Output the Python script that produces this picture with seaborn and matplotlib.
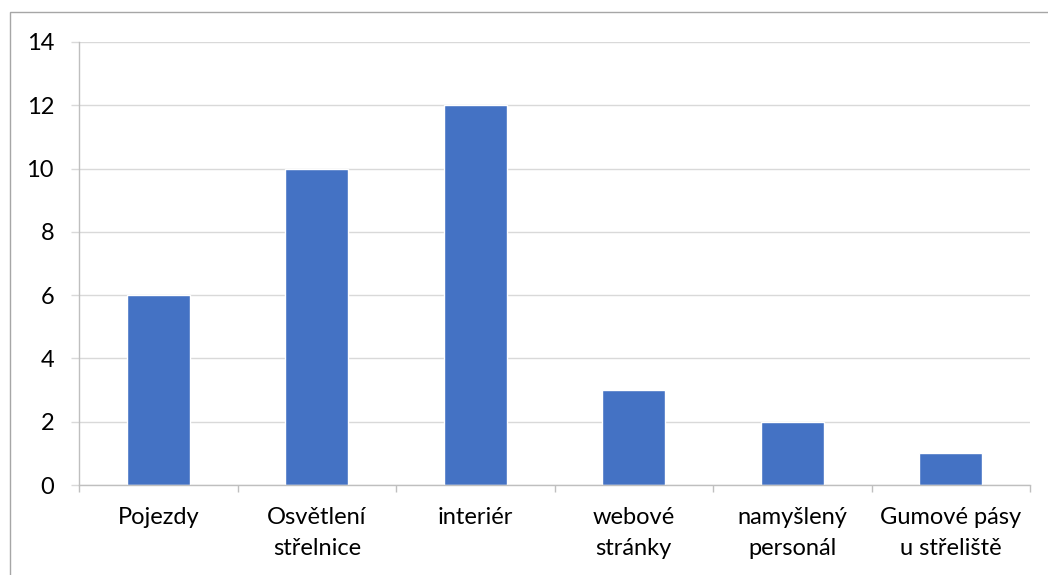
import matplotlib
matplotlib.use("Agg")
import matplotlib.pyplot as plt
import seaborn as sns
import pandas as pd
from matplotlib.patches import Rectangle

categories = ["Pojezdy", "Osvětlení\nstřelnice", "interiér", "webové\nstránky",
              "namyšlený\npersonál", "Gumové pásy\nu střeliště"]
values = [6, 10, 12, 3, 2, 1]
y_ticks = [0, 2, 4, 6, 8, 10, 12, 14]

sns.set_style("white")
plt.rcParams['font.family'] = ['Lato', 'DejaVu Sans']

df = pd.DataFrame({"cat": categories, "val": values})

fig = plt.figure(figsize=(10.48, 5.75), dpi=100)
ax = fig.add_axes([79/1048, 1-485/575, (1030-79)/1048, (485-42)/575])

sns.barplot(data=df, x="cat", y="val", color="#4472C4", width=0.4,
            saturation=1, ax=ax, zorder=3)

ax.set_ylim(0, 14)
ax.set_xlim(-0.5, len(categories) - 0.5)
ax.set_yticks(y_ticks)
ax.yaxis.grid(True, color="#D9D9D9", linewidth=1, zorder=0)
ax.set_xlabel("")
ax.set_ylabel("")

for s in ["top", "right"]:
    ax.spines[s].set_visible(False)
ax.spines["left"].set_color("#BFBFBF")
ax.spines["bottom"].set_color("#BFBFBF")
ax.spines["left"].set_linewidth(1)
ax.spines["bottom"].set_linewidth(1)
ax.spines["left"].set_zorder(4)
ax.spines["bottom"].set_zorder(4)

ax.tick_params(axis="y", length=6, color="#D9D9D9", width=1, pad=12,
               labelsize=17, labelcolor="#000000", left=True, direction="out")
ax.tick_params(axis="x", which="major", length=0, pad=16, labelsize=17,
               labelcolor="#000000")
ax.set_xticks([i - 0.5 for i in range(len(categories) + 1)], minor=True)
ax.tick_params(axis="x", which="minor", length=5, color="#BFBFBF", width=1,
               direction="out", bottom=True)
for lbl in ax.get_xticklabels():
    lbl.set_linespacing(1.6)

fig.patches.append(Rectangle((10/1048, -0.1), 1.1, 1 - 12/575 + 0.1,
                             transform=fig.transFigure, fill=False,
                             edgecolor="#A6A6A6", linewidth=1))

fig.savefig("out.png", dpi=100)
